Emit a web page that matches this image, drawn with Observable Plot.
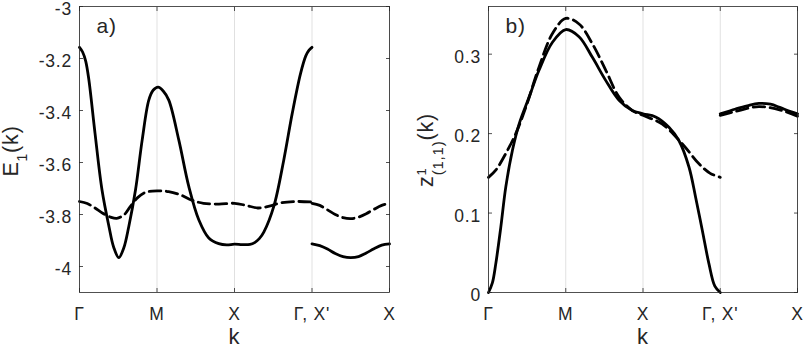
<!DOCTYPE html>
<html><head><meta charset="utf-8">
<script src="https://cdn.jsdelivr.net/npm/d3@7"></script>
<script src="https://cdn.jsdelivr.net/npm/@observablehq/plot@0.6"></script>
<style>
body{margin:0;background:#fff;}
#wrap{display:flex;width:804px;height:349px;}
svg text{font-family:"Liberation Sans",Arial,Helvetica,sans-serif;letter-spacing:0.8px;}
</style></head><body><div id="wrap"></div>
<script>
// x ticks: high-symmetry path positions
const xTickValues = [0, 1, 2, 3, 4];
const xTickLabels = ["Γ", "M", "X", "Γ, X'", "X"];
const yTicksA = [-4, -3.8, -3.6, -3.4, -3.2, -3];
const yTicksB = [0, 0.1, 0.2, 0.3];

// Panel a) E_1(k): [k, E]
const aSolidSeg1 = [[0,-3.157],[0.04,-3.175],[0.08,-3.21],[0.12,-3.28],[0.2,-3.487],[0.29,-3.705],[0.38,-3.846],[0.44,-3.925],[0.507,-3.966],[0.57,-3.93],[0.636,-3.846],[0.723,-3.705],[0.809,-3.513],[0.894,-3.36],[0.95,-3.322],[1.015,-3.31],[1.08,-3.325],[1.152,-3.36],[1.281,-3.513],[1.41,-3.692],[1.539,-3.82],[1.668,-3.89],[1.797,-3.912],[1.9,-3.917],[2.0,-3.914],[2.1,-3.916],[2.2,-3.915],[2.26,-3.908],[2.32,-3.893],[2.378,-3.868],[2.507,-3.769],[2.636,-3.59],[2.745,-3.411],[2.852,-3.258],[2.92,-3.19],[2.96,-3.169],[3.0,-3.157]];
const aSolidSeg2 = [[3.0,-3.913],[3.1,-3.92],[3.2,-3.933],[3.3,-3.95],[3.4,-3.962],[3.5,-3.966],[3.6,-3.962],[3.7,-3.948],[3.8,-3.932],[3.9,-3.918],[4.0,-3.913]];
const aDashSeg1 = [[0,-3.75],[0.1,-3.758],[0.2,-3.775],[0.3,-3.795],[0.4,-3.81],[0.48,-3.815],[0.58,-3.8],[0.65,-3.772],[0.75,-3.735],[0.85,-3.715],[1.0,-3.709],[1.15,-3.712],[1.3,-3.724],[1.45,-3.745],[1.6,-3.757],[1.8,-3.76],[2.0,-3.757],[2.15,-3.765],[2.3,-3.775],[2.45,-3.768],[2.6,-3.755],[2.8,-3.75],[3.0,-3.752]];
const aDashSeg2 = [[3.0,-3.757],[3.1,-3.765],[3.2,-3.782],[3.3,-3.8],[3.4,-3.812],[3.5,-3.816],[3.6,-3.81],[3.7,-3.797],[3.8,-3.78],[3.9,-3.765],[4.0,-3.757]];

// Panel b) z^1_(1,1)(k): [k, z]
const bSolidSeg1 = [[0,0],[0.05,0.012],[0.094,0.036],[0.159,0.082],[0.224,0.133],[0.31,0.179],[0.396,0.212],[0.526,0.246],[0.655,0.28],[0.828,0.315],[1.0,0.331],[1.172,0.322],[1.345,0.296],[1.517,0.267],[1.69,0.242],[1.862,0.229],[2.0,0.225],[2.164,0.221],[2.336,0.208],[2.466,0.191],[2.595,0.158],[2.681,0.12],[2.768,0.078],[2.854,0.036],[2.93,0.008],[3.0,0]];
const bSolidSeg2 = [[3.0,0.225],[3.2,0.231],[3.35,0.235],[3.5,0.238],[3.65,0.237],[3.77,0.233],[3.9,0.228],[4.0,0.225]];
const bDashSeg1 = [[0,0.145],[0.094,0.154],[0.224,0.175],[0.353,0.2],[0.483,0.233],[0.655,0.284],[0.828,0.326],[1.0,0.345],[1.172,0.338],[1.345,0.313],[1.517,0.28],[1.69,0.246],[1.862,0.229],[2.0,0.223],[2.25,0.212],[2.51,0.187],[2.725,0.162],[2.87,0.15],[3.0,0.145]];
const bDashSeg2 = [[3.0,0.223],[3.2,0.228],[3.5,0.234],[3.8,0.229],[4.0,0.222]];

const rows = (segs) => segs.flatMap((pairs, s) => pairs.map(([k, v]) => ({k, v, seg: s})));

const ink = "#262626";
const fontStyle = {fontFamily: "'Liberation Sans', Arial, Helvetica, sans-serif", fontSize: "17.5px", color: ink, background: "white", overflow: "visible"};
const fmtX = d => xTickLabels[xTickValues.indexOf(d)];

function panel({yDomain, yTicks, solid, dash, marginLeft, marginRight, tag}) {
  return Plot.plot({
    width: 402, height: 349,
    marginLeft, marginRight, marginTop: 6, marginBottom: 57,
    x: {domain: [0, 4]},
    y: {domain: yDomain},
    style: fontStyle,
    marks: [
      Plot.gridX(xTickValues, {stroke: "#000", strokeOpacity: 0.12, strokeWidth: 1}),
      Plot.line(rows(solid), {x: "k", y: "v", z: "seg", stroke: "black", strokeWidth: 2.8, curve: "catmull-rom"}),
      Plot.line(rows(dash), {x: "k", y: "v", z: "seg", stroke: "black", strokeWidth: 2.8, strokeDasharray: "11.5,5.5", curve: "catmull-rom"}),
      Plot.frame({stroke: ink, strokeWidth: 0.8}),
      Plot.axisX(xTickValues, {anchor: "bottom", tickSize: -4, fill: "none", stroke: ink, strokeWidth: 0.8, label: null}),
      Plot.axisX(xTickValues, {anchor: "top", tickSize: -4, fill: "none", stroke: ink, strokeWidth: 0.8, label: null}),
      Plot.axisY(yTicks, {anchor: "left", tickSize: -4, fill: "none", stroke: ink, strokeWidth: 0.8, label: null}),
      Plot.axisY(yTicks, {anchor: "right", tickSize: -4, fill: "none", stroke: ink, strokeWidth: 0.8, label: null}),
      Plot.axisX(xTickValues, {anchor: "bottom", tickSize: 0, tickPadding: 15, tickFormat: fmtX, fill: ink, fontSize: 17.5, label: null}),
      Plot.axisY(yTicks, {anchor: "left", tickSize: 0, tickPadding: 7.5, tickFormat: d => String(d), fill: ink, fontSize: 17.5, dy: 3, label: null}),
      Plot.text(["k"], {frameAnchor: "bottom", dy: 51, lineAnchor: "bottom", fontSize: 22, fill: ink}),
      Plot.text([tag], {frameAnchor: "top-left", dx: 17, dy: 12, lineAnchor: "top", textAnchor: "start", fontSize: 21, fill: ink})
    ]
  });
}

const plotA = panel({yDomain: [-4.1, -3], yTicks: yTicksA, solid: [aSolidSeg1, aSolidSeg2], dash: [aDashSeg1, aDashSeg2], marginLeft: 79, marginRight: 13, tag: "a)"});
const plotB = panel({yDomain: [0, 0.36], yTicks: yTicksB, solid: [bSolidSeg1, bSolidSeg2], dash: [bDashSeg1, bDashSeg2], marginLeft: 86, marginRight: 7, tag: "b)"});

const wrap = document.getElementById("wrap");
wrap.appendChild(plotA);
wrap.appendChild(plotB);

// y-axis titles with sub/superscripts
const tA = d3.select(plotA).append("text")
  .attr("transform", "translate(17.5,151) rotate(-90)")
  .attr("text-anchor", "middle").attr("font-size", 21.5).attr("fill", ink);
tA.append("tspan").text("E");
tA.append("tspan").attr("font-size", 14).attr("dy", 9).text("1");
tA.append("tspan").attr("dy", -9).text("(k)");

const tB = d3.select(plotB).append("text")
  .attr("transform", "translate(31,150) rotate(-90)")
  .attr("text-anchor", "middle").attr("font-size", 21.5).attr("fill", ink);
tB.append("tspan").text("z");
tB.append("tspan").attr("font-size", 13).attr("dy", -7).text("1");
tB.append("tspan").attr("font-size", 15).attr("dx", -8).attr("dy", 17).text("(1,1)");
tB.append("tspan").attr("dy", -10).text("(k)");
</script></body></html>
